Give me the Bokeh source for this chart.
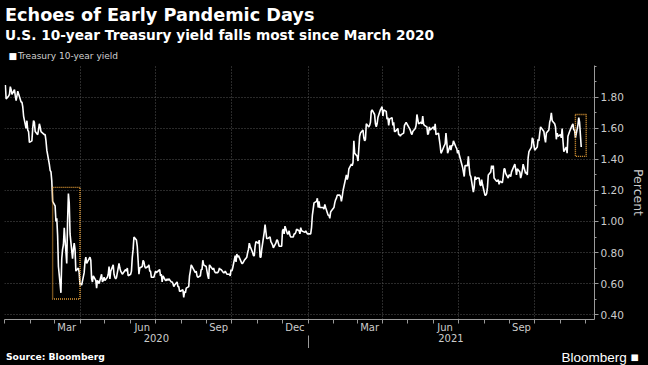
import pandas as pd
from bokeh.plotting import figure
from bokeh.layouts import column
from bokeh.models import (Range1d, FixedTicker, DatetimeAxis, DatetimeTickFormatter,
                          NumeralTickFormatter, Label, ColumnDataSource)
from bokeh.embed import file_html
from bokeh.resources import INLINE

# ---------------- data (US 10-year Treasury yield, percent) ----------------
days_2020 = [
    "01-02", "01-03", "01-06", "01-07", "01-08", "01-09", "01-10", "01-13", "01-14", "01-15", "01-16", "01-17",
    "01-21", "01-22", "01-23", "01-24", "01-27", "01-28", "01-29", "01-30", "01-31",
    "02-03", "02-04", "02-05", "02-06", "02-07", "02-10", "02-11", "02-12", "02-13", "02-14", "02-18", "02-19",
    "02-20", "02-21", "02-24", "02-25", "02-26", "02-27", "02-28",
    "03-02", "03-03", "03-04", "03-05", "03-06", "03-09", "03-10", "03-11", "03-12", "03-13", "03-16", "03-17",
    "03-18", "03-19", "03-20", "03-23", "03-24", "03-25", "03-26", "03-27", "03-30", "03-31",
    "04-01", "04-02", "04-03", "04-06", "04-07", "04-08", "04-09", "04-13", "04-14", "04-15", "04-16", "04-17",
    "04-20", "04-21", "04-22", "04-23", "04-24", "04-27", "04-28", "04-29", "04-30",
    "05-01", "05-04", "05-05", "05-06", "05-07", "05-08", "05-11", "05-12", "05-13", "05-14", "05-15", "05-18",
    "05-19", "05-20", "05-21", "05-22", "05-26", "05-27", "05-28", "05-29",
    "06-01", "06-02", "06-03", "06-04", "06-05", "06-08", "06-09", "06-10", "06-11", "06-12", "06-15", "06-16",
    "06-17", "06-18", "06-19", "06-22", "06-23", "06-24", "06-25", "06-26", "06-29", "06-30",
    "07-01", "07-02", "07-06", "07-07", "07-08", "07-09", "07-10", "07-13", "07-14", "07-15", "07-16", "07-17",
    "07-20", "07-21", "07-22", "07-23", "07-24", "07-27", "07-28", "07-29", "07-30", "07-31",
    "08-03", "08-04", "08-05", "08-06", "08-07", "08-10", "08-11", "08-12", "08-13", "08-14", "08-17", "08-18",
    "08-19", "08-20", "08-21", "08-24", "08-25", "08-26", "08-27", "08-28", "08-31",
    "09-01", "09-02", "09-03", "09-04", "09-08", "09-09", "09-10", "09-11", "09-14", "09-15", "09-16", "09-17",
    "09-18", "09-21", "09-22", "09-23", "09-24", "09-25", "09-28", "09-29", "09-30",
    "10-01", "10-02", "10-05", "10-06", "10-07", "10-08", "10-09", "10-13", "10-14", "10-15", "10-16", "10-19",
    "10-20", "10-21", "10-22", "10-23", "10-26", "10-27", "10-28", "10-29", "10-30",
    "11-02", "11-03", "11-04", "11-05", "11-06", "11-09", "11-10", "11-12", "11-13", "11-16", "11-17", "11-18",
    "11-19", "11-20", "11-23", "11-24", "11-25", "11-27", "11-30",
    "12-01", "12-02", "12-03", "12-04", "12-07", "12-08", "12-09", "12-10", "12-11", "12-14", "12-15", "12-16",
    "12-17", "12-18", "12-21", "12-22", "12-23", "12-24", "12-28", "12-29", "12-30", "12-31",
]
yld_2020 = [
    1.88, 1.79, 1.81, 1.82, 1.87, 1.85, 1.82, 1.85, 1.81, 1.78, 1.81, 1.84,
    1.77, 1.77, 1.74, 1.68, 1.60, 1.65, 1.59, 1.58, 1.51,
    1.52, 1.60, 1.65, 1.64, 1.58, 1.56, 1.59, 1.63, 1.61, 1.58, 1.56, 1.56,
    1.52, 1.46, 1.37, 1.33, 1.32, 1.26, 1.13,
    1.10, 1.00, 1.02, 0.91, 0.71, 0.54, 0.76, 0.82, 0.85, 0.96, 0.73, 1.00,
    1.18, 1.12, 0.92, 0.76, 0.82, 0.86, 0.82, 0.68, 0.70, 0.67,
    0.59, 0.60, 0.59, 0.67, 0.74, 0.77, 0.73, 0.77, 0.75, 0.63, 0.61, 0.65,
    0.62, 0.57, 0.62, 0.61, 0.60, 0.66, 0.61, 0.62, 0.64,
    0.62, 0.64, 0.66, 0.71, 0.63, 0.68, 0.72, 0.66, 0.64, 0.63, 0.64, 0.73,
    0.70, 0.68, 0.67, 0.66, 0.69, 0.68, 0.70, 0.65,
    0.66, 0.68, 0.77, 0.82, 0.90, 0.88, 0.84, 0.75, 0.66, 0.70, 0.71, 0.75,
    0.74, 0.71, 0.70, 0.71, 0.72, 0.68, 0.68, 0.64, 0.64, 0.66,
    0.68, 0.67, 0.69, 0.65, 0.66, 0.61, 0.65, 0.62, 0.62, 0.63, 0.62, 0.63,
    0.61, 0.61, 0.60, 0.58, 0.59, 0.61, 0.58, 0.58, 0.55, 0.55,
    0.56, 0.51, 0.55, 0.54, 0.57, 0.58, 0.65, 0.68, 0.72, 0.71, 0.68, 0.67,
    0.68, 0.65, 0.64, 0.65, 0.69, 0.69, 0.75, 0.72, 0.71,
    0.68, 0.65, 0.63, 0.72, 0.69, 0.70, 0.68, 0.67, 0.67, 0.68, 0.70, 0.69,
    0.69, 0.67, 0.67, 0.68, 0.67, 0.66, 0.66, 0.65, 0.69,
    0.68, 0.70, 0.78, 0.74, 0.79, 0.77, 0.78, 0.73, 0.73, 0.74, 0.75, 0.77,
    0.80, 0.82, 0.86, 0.84, 0.80, 0.78, 0.78, 0.84, 0.87,
    0.86, 0.88, 0.77, 0.77, 0.82, 0.93, 0.98, 0.89, 0.89, 0.90, 0.87, 0.86,
    0.85, 0.83, 0.86, 0.88, 0.88, 0.84, 0.84,
    0.94, 0.95, 0.92, 0.97, 0.92, 0.92, 0.94, 0.91, 0.90, 0.90, 0.92, 0.92,
    0.93, 0.95, 0.94, 0.92, 0.96, 0.94, 0.93, 0.94, 0.93, 0.92,
]
days_2021 = [
    "01-04", "01-05", "01-06", "01-07", "01-08", "01-11", "01-12", "01-13", "01-14", "01-15", "01-19", "01-20",
    "01-21", "01-22", "01-25", "01-26", "01-27", "01-28", "01-29",
    "02-01", "02-02", "02-03", "02-04", "02-05", "02-08", "02-09", "02-10", "02-11", "02-12", "02-16", "02-17",
    "02-18", "02-19", "02-22", "02-23", "02-24", "02-25", "02-26",
    "03-01", "03-02", "03-03", "03-04", "03-05", "03-08", "03-09", "03-10", "03-11", "03-12", "03-15", "03-16",
    "03-17", "03-18", "03-19", "03-22", "03-23", "03-24", "03-25", "03-26", "03-29", "03-30", "03-31",
    "04-01", "04-02", "04-05", "04-06", "04-07", "04-08", "04-09", "04-12", "04-13", "04-14", "04-15", "04-16",
    "04-19", "04-20", "04-21", "04-22", "04-23", "04-26", "04-27", "04-28", "04-29", "04-30",
    "05-03", "05-04", "05-05", "05-06", "05-07", "05-10", "05-11", "05-12", "05-13", "05-14", "05-17", "05-18",
    "05-19", "05-20", "05-21", "05-24", "05-25", "05-26", "05-27", "05-28",
    "06-01", "06-02", "06-03", "06-04", "06-07", "06-08", "06-09", "06-10", "06-11", "06-14", "06-15", "06-16",
    "06-17", "06-18", "06-21", "06-22", "06-23", "06-24", "06-25", "06-28", "06-29", "06-30",
    "07-01", "07-02", "07-06", "07-07", "07-08", "07-09", "07-12", "07-13", "07-14", "07-15", "07-16", "07-19",
    "07-20", "07-21", "07-22", "07-23", "07-26", "07-27", "07-28", "07-29", "07-30",
    "08-02", "08-03", "08-04", "08-05", "08-06", "08-09", "08-10", "08-11", "08-12", "08-13", "08-16", "08-17",
    "08-18", "08-19", "08-20", "08-23", "08-24", "08-25", "08-26", "08-27", "08-30", "08-31",
    "09-01", "09-02", "09-03", "09-07", "09-08", "09-09", "09-10", "09-13", "09-14", "09-15", "09-16", "09-17",
    "09-20", "09-21", "09-22", "09-23", "09-24", "09-27", "09-28", "09-29", "09-30",
    "10-01", "10-04", "10-05", "10-06", "10-07", "10-08", "10-12", "10-13", "10-14", "10-15", "10-18", "10-19",
    "10-20", "10-21", "10-22", "10-25", "10-26", "10-27", "10-28", "10-29",
    "11-01", "11-02", "11-03", "11-04", "11-05", "11-08", "11-09", "11-10", "11-12", "11-15", "11-16", "11-17",
    "11-18", "11-19", "11-22", "11-23", "11-24", "11-26",
]
yld_2021 = [
    0.92, 0.96, 1.04, 1.08, 1.12, 1.13, 1.15, 1.09, 1.13, 1.09, 1.09, 1.08,
    1.11, 1.09, 1.04, 1.04, 1.02, 1.06, 1.07,
    1.09, 1.12, 1.14, 1.15, 1.17, 1.17, 1.16, 1.13, 1.16, 1.20, 1.30, 1.27,
    1.29, 1.34, 1.37, 1.36, 1.38, 1.52, 1.44,
    1.42, 1.39, 1.47, 1.55, 1.57, 1.59, 1.54, 1.52, 1.53, 1.63, 1.61, 1.62,
    1.64, 1.71, 1.72, 1.69, 1.63, 1.61, 1.63, 1.67, 1.72, 1.73, 1.74,
    1.68, 1.72, 1.71, 1.66, 1.67, 1.62, 1.66, 1.67, 1.62, 1.64, 1.58, 1.58,
    1.60, 1.56, 1.56, 1.55, 1.56, 1.57, 1.62, 1.63, 1.64, 1.63,
    1.60, 1.59, 1.57, 1.56, 1.58, 1.60, 1.62, 1.69, 1.66, 1.63, 1.64, 1.63,
    1.68, 1.63, 1.62, 1.61, 1.56, 1.57, 1.61, 1.59,
    1.61, 1.59, 1.63, 1.56, 1.57, 1.53, 1.49, 1.44, 1.45, 1.49, 1.50, 1.57,
    1.51, 1.44, 1.49, 1.46, 1.49, 1.49, 1.52, 1.48, 1.47, 1.44,
    1.46, 1.43, 1.35, 1.32, 1.29, 1.36, 1.36, 1.42, 1.35, 1.30, 1.29, 1.19,
    1.22, 1.29, 1.27, 1.28, 1.28, 1.24, 1.23, 1.27, 1.24,
    1.17, 1.17, 1.18, 1.22, 1.30, 1.32, 1.36, 1.34, 1.36, 1.28, 1.26, 1.26,
    1.27, 1.24, 1.26, 1.25, 1.29, 1.34, 1.34, 1.31, 1.28, 1.30,
    1.30, 1.29, 1.32, 1.37, 1.34, 1.30, 1.34, 1.32, 1.28, 1.30, 1.33, 1.37,
    1.31, 1.32, 1.30, 1.41, 1.45, 1.48, 1.54, 1.53, 1.49,
    1.46, 1.48, 1.53, 1.52, 1.57, 1.61, 1.58, 1.54, 1.51, 1.57, 1.59, 1.64,
    1.66, 1.70, 1.65, 1.63, 1.61, 1.53, 1.57, 1.55,
    1.56, 1.54, 1.60, 1.52, 1.45, 1.48, 1.44, 1.55, 1.58, 1.62, 1.63, 1.59,
    1.59, 1.54, 1.62, 1.67, 1.64, 1.48,
]

# axis ticks / labels
x_start, x_end = "2020-01-01", "2021-12-12"
y_start, y_end = 0.368, 2.006
y_ticks = [0.4, 0.6, 0.8, 1.0, 1.2, 1.4, 1.6, 1.8]
y_minor = [0.5, 0.7, 0.9, 1.1, 1.3, 1.5, 1.7, 1.9, 2.0]
month_label_dates = ["2020-03-16", "2020-06-15", "2020-09-15", "2020-12-16",
                     "2021-03-16", "2021-06-15", "2021-09-15"]
quarter_grid_dates = ["2020-04-01", "2020-07-01", "2020-10-01", "2021-01-01",
                      "2021-04-01", "2021-07-01", "2021-10-01"]
month_start_dates = [f"{yr}-{m:02d}-01" for yr in (2020, 2021) for m in range(1, 13)]
year_label_dates = ["2020-07-02", "2021-06-22"]
year_break_dates = ["2021-01-01"]

# highlight boxes
box_left = ["2020-02-28", "2021-11-19"]
box_right = ["2020-04-01", "2021-12-02"]
box_bottom = [0.50, 1.42]
box_top = [1.22, 1.69]

title_text = "Echoes of Early Pandemic Days"
subtitle_text = "U.S. 10-year Treasury yield falls most since March 2020"
legend_text = "Treasury 10-year yield"
source_text = "Source: Bloomberg"
logo_text = "Bloomberg \u25a0"
axis_title = "Percent"


def ms(d):
    return pd.Timestamp(d).value / 1e6


W = 648
HEAD_H, MAIN_H, FOOT_H = 64, 284, 17
FRAME_L, FRAME_R = 4, 597          # plot frame edges (shared by all stacked panels)
BG = "black"
AX = "#9a9a9a"
LBL = "#cccccc"
GRID = "#555555"
fmt_keys = ["microseconds", "milliseconds", "seconds", "minsec", "minutes", "hourmin",
            "hours", "days", "months", "years"]


def text_panel(h, yloc=None):
    f = figure(width=W, height=h, x_range=Range1d(FRAME_L, FRAME_R), y_range=Range1d(h, 0),
               x_axis_location=None, y_axis_location=yloc, output_backend="svg",
               toolbar_location=None, min_border_left=FRAME_L, min_border_right=W - FRAME_R,
               min_border_top=0, min_border_bottom=0, background_fill_color=BG,
               border_fill_color=BG, outline_line_color=None)
    f.xgrid.visible = False
    f.ygrid.visible = False
    return f


def lab(f, text, x, y_mid, size, font="DejaVu Sans", bold=False, color="white", align="left"):
    f.add_layout(Label(x=x, y=y_mid, text=text, text_font=font, text_font_size=size,
                       text_font_style="bold" if bold else "normal", text_color=color,
                       text_align=align, text_baseline="middle"))


# ---------------- header ----------------
head = text_panel(HEAD_H)
lab(head, title_text, 4.5, 14.5, "17.7px", bold=True)
lab(head, subtitle_text, 4.5, 34.4, "13.7px", bold=True)
lab(head, "\u25a0", 8, 55.3, "9px")
lab(head, legend_text, 17.5, 55.5, "9px", color="#d0d0d0")

# ---------------- main chart ----------------
dates = pd.to_datetime(["2020-" + d for d in days_2020] + ["2021-" + d for d in days_2021])
src = ColumnDataSource(dict(date=dates, yld=yld_2020 + yld_2021))
box_src = ColumnDataSource(dict(left=pd.to_datetime(box_left), right=pd.to_datetime(box_right),
                                bottom=box_bottom, top=box_top))

p = figure(width=W, height=MAIN_H, x_axis_type="datetime", y_axis_location="right",
           x_range=Range1d(pd.Timestamp(x_start), pd.Timestamp(x_end)),
           y_range=Range1d(y_start, y_end),
           output_backend="svg", toolbar_location=None,
           min_border_left=FRAME_L, min_border_right=W - FRAME_R, min_border_top=1, min_border_bottom=29,
           background_fill_color=BG, border_fill_color=BG, outline_line_color=None)

xa = p.xaxis[0]
xa.ticker = FixedTicker(ticks=[ms(d) for d in month_label_dates],
                        minor_ticks=[ms(d) for d in month_start_dates])
xa.formatter = DatetimeTickFormatter(**{k: "%b" for k in fmt_keys})
xa.major_tick_out = 0
xa.major_tick_in = 0
xa.minor_tick_out = 4
xa.minor_tick_in = 0
xa.axis_line_color = AX
xa.minor_tick_line_color = AX
xa.major_label_text_color = LBL
xa.major_label_text_font = "DejaVu Sans"
xa.major_label_text_font_size = "10px"
xa.major_label_standoff = -2

ya2 = DatetimeAxis(ticker=FixedTicker(ticks=[ms(d) for d in year_label_dates],
                                      minor_ticks=[ms(d) for d in year_break_dates]),
                   formatter=DatetimeTickFormatter(**{k: "%Y" for k in fmt_keys}))
ya2.axis_line_color = None
ya2.major_tick_line_color = None
ya2.major_tick_out = 0
ya2.major_tick_in = 0
ya2.minor_tick_out = 13
ya2.minor_tick_in = 0
ya2.minor_tick_line_color = AX
ya2.major_label_text_color = LBL
ya2.major_label_text_font = "DejaVu Sans"
ya2.major_label_text_font_size = "10px"
ya2.major_label_standoff = -15
p.add_layout(ya2, "below")

yax = p.yaxis[0]
yax.ticker = FixedTicker(ticks=y_ticks, minor_ticks=y_minor)
yax.formatter = NumeralTickFormatter(format="0.00")
yax.major_tick_out = 4
yax.major_tick_in = 0
yax.minor_tick_out = 2
yax.minor_tick_in = 0
yax.axis_line_color = AX
yax.major_tick_line_color = AX
yax.minor_tick_line_color = AX
yax.major_label_text_color = LBL
yax.major_label_text_font = "DejaVu Sans"
yax.major_label_text_font_size = "10.5px"
yax.major_label_standoff = 2
yax.axis_label = axis_title
yax.axis_label_text_font = "DejaVu Sans"
yax.axis_label_text_font_size = "12.5px"
yax.axis_label_text_font_style = "normal"
yax.axis_label_text_color = LBL
yax.axis_label_standoff = 4

p.xgrid.ticker = FixedTicker(ticks=[ms(d) for d in quarter_grid_dates])
p.xgrid.grid_line_color = GRID
p.xgrid.grid_line_dash = "1 2"
p.ygrid.grid_line_color = GRID
p.ygrid.grid_line_dash = "1 2"

p.line("date", "yld", source=src, line_color="white", line_width=1.6)
p.quad(left="left", right="right", bottom="bottom", top="top", source=box_src,
       fill_color=None, line_color="#e8a038", line_width=1.4, line_dash="1 1")

# ---------------- footer ----------------
foot = text_panel(FOOT_H, yloc="right")
lab(foot, source_text, 5.5, 8, "9.2px", bold=True)
fax = foot.yaxis[0]
LOGO_Y = 6
fax.ticker = FixedTicker(ticks=[LOGO_Y])
fax.major_label_overrides = {LOGO_Y: logo_text}
fax.axis_line_color = None
fax.major_tick_line_color = None
fax.minor_tick_line_color = None
fax.major_tick_out = 0
fax.major_tick_in = 0
fax.major_label_standoff = 564 - FRAME_R
fax.major_label_text_font = "Liberation Sans"
fax.major_label_text_font_size = "13.5px"
fax.major_label_text_color = "white"

layout = column(head, p, foot, spacing=0)

try:
    from bokeh.models import GlobalInlineStyleSheet
    layout.stylesheets = [GlobalInlineStyleSheet(css="body { background-color: #000000; }")]
except Exception:
    pass

open("out.html", "w").write(file_html(layout, INLINE))
